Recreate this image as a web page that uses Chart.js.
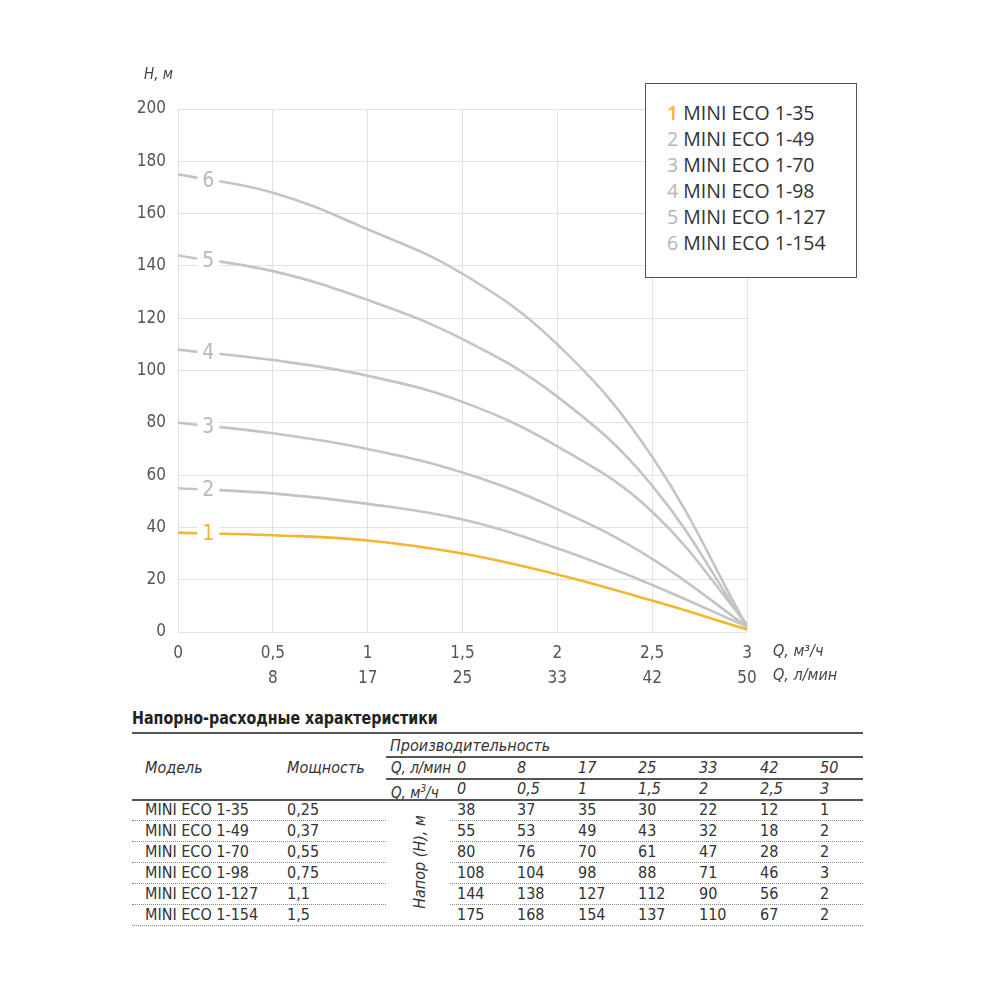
<!DOCTYPE html>
<html>
<head>
<meta charset="utf-8">
<script src="https://cdn.jsdelivr.net/npm/chart.js@4.4.1/dist/chart.umd.min.js"></script>
<style>
  body { margin: 0; background: #fff; font-family: "Liberation Sans Narrow", "DejaVu Sans Condensed", sans-serif; color: #333; }
  #wrap { position: relative; width: 1000px; height: 1000px; }
  #chartBox { position: absolute; left: 0; top: 0; width: 1000px; height: 700px; }
  #legendBox { position: absolute; left: 645px; top: 83px; width: 212px; height: 195px; border: 1px solid #555; background: #fff;
    font-family: "Open Sans", sans-serif; font-size: 19.5px; color: #333; box-sizing: border-box; padding: 16px 0 0 21px; line-height: 26px; }
  .abs { position: absolute; white-space: nowrap; }
  .it { font-style: italic; }
  .hl { position: absolute; background: #555; }
  .dl { position: absolute; border-top: 1px dotted #888; height: 0; }
</style>
</head>
<body>
<div id="wrap">
  <div id="chartBox"><canvas id="pumpChart"></canvas></div>
  <div id="legendBox"></div>
  <div id="table"></div>
</div>
<script>
// ─── DATA ───
const qM3 = [0, 0.5, 1, 1.5, 2, 2.5, 3];
const qLmin = [0, 8, 17, 25, 33, 42, 50];
const models = ['MINI ECO 1-35', 'MINI ECO 1-49', 'MINI ECO 1-70', 'MINI ECO 1-98', 'MINI ECO 1-127', 'MINI ECO 1-154'];
const power = ['0,25', '0,37', '0,55', '0,75', '1,1', '1,5'];
const head1 = [38, 37, 35, 30, 22, 12, 1];
const head2 = [55, 53, 49, 43, 32, 18, 2];
const head3 = [80, 76, 70, 61, 47, 28, 2];
const head4 = [108, 104, 98, 88, 71, 46, 3];
const head5 = [144, 138, 127, 112, 90, 56, 2];
const head6 = [175, 168, 154, 137, 110, 67, 2];
const heads = [head1, head2, head3, head4, head5, head6];
const yTicks = [0, 20, 40, 60, 80, 100, 120, 140, 160, 180, 200];

const YELLOW = '#f0b72f';
const GREY = '#c4c4c4';
const fmt = v => String(v).replace('.', ',');

// ─── PLUGIN: curve numbers + axis titles ───
const extras = {
  id: 'extras',
  afterDatasetsDraw(chart) {
    const { ctx, scales: { x, y } } = chart;
    chart.data.datasets.forEach((ds, i) => {
      const px = x.getPixelForValue(0.16);
      const v = ds.data[0].y + (ds.data[1].y - ds.data[0].y) * 0.32;
      const py = y.getPixelForValue(v);
      ctx.save();
      ctx.fillStyle = '#fff';
      ctx.fillRect(px - 11, py - 9, 22, 18);
      ctx.font = '21px "DejaVu Sans Condensed", sans-serif';
      ctx.fillStyle = i === 0 ? YELLOW : '#b8b8b8';
      ctx.textAlign = 'center';
      ctx.textBaseline = 'middle';
      ctx.fillText(String(i + 1), px, py + 1);
      ctx.restore();
    });
    ctx.save();
    ctx.font = 'italic 15px "Liberation Sans Narrow", "DejaVu Sans Condensed", sans-serif';
    ctx.fillStyle = '#444';
    ctx.textBaseline = 'middle';
    ctx.fillText('Н, м', 144, 75);
    ctx.font = 'italic 16px "Liberation Sans Narrow", "DejaVu Sans Condensed", sans-serif';
    ctx.fillText('Q, м³/ч', x.right + 26, y.bottom + 20);
    ctx.fillText('Q, л/мин', x.right + 26, y.bottom + 44);
    ctx.restore();
  }
};

const tickFont = { family: '"Liberation Sans Narrow", "DejaVu Sans Condensed", sans-serif', size: 17, lineHeight: 1.42 };

new Chart(document.getElementById('pumpChart'), {
  type: 'line',
  data: {
    datasets: heads.map((h, i) => ({
      label: models[i],
      data: h.map((v, k) => ({ x: qM3[k], y: v })),
      borderColor: i === 0 ? YELLOW : GREY,
      borderWidth: 2.6,
      pointRadius: 0,
      tension: 0.4,
      fill: false,
      order: i === 0 ? 0 : 1
    }))
  },
  options: {
    responsive: true,
    maintainAspectRatio: false,
    animation: false,
    layout: { padding: { left: 100, right: 253, top: 109, bottom: 10 } },
    plugins: { legend: { display: false }, tooltip: { enabled: false } },
    scales: {
      x: {
        type: 'linear', min: 0, max: 3,
        afterFit: s => { s.height = 58; },
        afterBuildTicks: s => { s.ticks = qM3.map(v => ({ value: v })); },
        grid: { color: '#e2e2e2', lineWidth: 1, drawTicks: false },
        border: { display: false },
        ticks: {
          color: '#555', font: tickFont, padding: 10, maxRotation: 0, autoSkip: false,
          callback: v => {
            const k = qM3.indexOf(v);
            return [fmt(v), k > 0 ? String(qLmin[k]) : ''];
          }
        }
      },
      y: {
        min: 0, max: 200,
        afterFit: s => { s.width = 78; },
        afterBuildTicks: s => { s.ticks = yTicks.map(v => ({ value: v })); },
        grid: { color: '#e2e2e2', lineWidth: 1, drawTicks: false },
        border: { display: false },
        ticks: { color: '#555', font: tickFont, padding: 12 }
      }
    }
  },
  plugins: [extras]
});

// ─── LEGEND BOX ───
document.getElementById('legendBox').innerHTML = models.map((m, i) =>
  `<div><span style="color:${i === 0 ? YELLOW : '#b5b5b5'};font-weight:${i === 0 ? 600 : 400}">${i + 1}</span> ${m}</div>`).join('');

// ─── TABLE ───
const tbl = document.getElementById('table');
const colX = [457, 517, 578, 638, 699, 760, 820];
function txt(s, x, yc, opts = {}) {
  const d = document.createElement('div');
  d.className = 'abs' + (opts.it ? ' it' : '');
  d.style.left = x + 'px';
  d.style.top = (yc - 10) + 'px';
  d.style.lineHeight = '20px';
  d.style.fontSize = (opts.size || 16) + 'px';
  if (opts.bold) d.style.fontWeight = 'bold';
  if (opts.color) d.style.color = opts.color;
  d.innerHTML = s;
  tbl.appendChild(d);
  return d;
}
function hline(x, yy, w, h, cls = 'hl') {
  const d = document.createElement('div');
  d.className = cls;
  d.style.left = x + 'px'; d.style.top = yy + 'px'; d.style.width = w + 'px';
  if (cls === 'hl') d.style.height = h + 'px';
  tbl.appendChild(d);
}

const title = txt('Напорно-расходные характеристики', 132, 718, { bold: true, size: 18, color: '#222' });
title.style.transform = 'scaleX(0.88)';
title.style.transformOrigin = '0 50%';
hline(132, 732, 731, 2);
txt('Производительность', 390, 746, { it: true });
hline(386, 756, 477, 1.5);
txt('Модель', 145, 768, { it: true });
txt('Мощность', 287, 768, { it: true });
txt('Q, л/мин', 391, 768, { it: true, size: 15 });
qLmin.forEach((v, k) => txt(String(v), colX[k], 768, { it: true }));
hline(386, 778, 477, 1.5);
txt('Q, м<sup style="font-size:10px">3</sup>/ч', 391, 789, { it: true, size: 15 });
qM3.forEach((v, k) => txt(fmt(v), colX[k], 789, { it: true }));
hline(132, 799, 731, 1.5);

heads.forEach((h, i) => {
  const yc = 810 + i * 21;
  txt(models[i], 145, yc);
  txt(power[i], 287, yc);
  h.forEach((v, k) => txt(String(v), colX[k], yc));
  if (i < heads.length - 1) {
    hline(132, yc + 10, 254, 0, 'dl');
    hline(450, yc + 10, 413, 0, 'dl');
  } else {
    hline(132, yc + 10, 731, 0, 'dl');
  }
});
const rot = txt('Напор (Н), м', 420, 862, { it: true });
rot.style.transform = 'translate(-50%, 0) rotate(-90deg)';
rot.style.transformOrigin = '50% 50%';
</script>
</body>
</html>
